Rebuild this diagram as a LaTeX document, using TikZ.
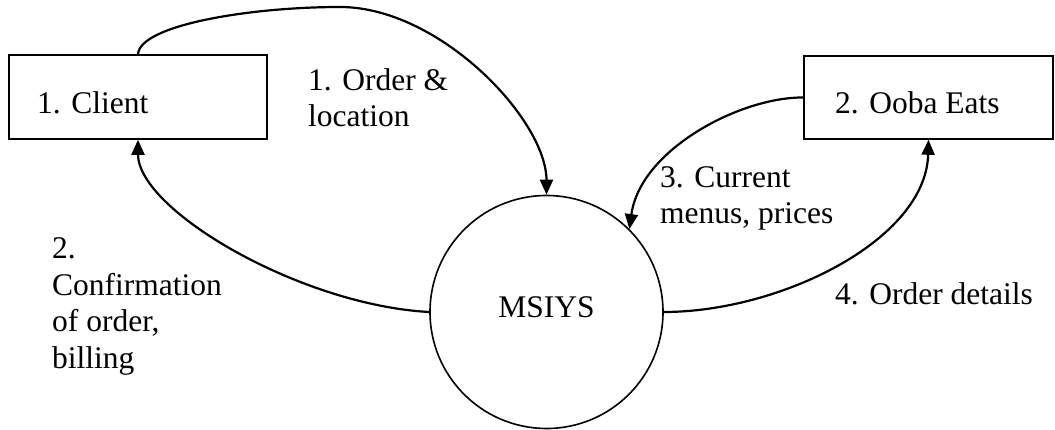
\documentclass[tikz,border=0pt]{standalone}
\usepackage{fontspec}
\setmainfont{Liberation Serif}
\usetikzlibrary{arrows.meta}
\begin{document}
\begin{tikzpicture}[x=1pt,y=-1pt,
  every node/.style={font=\fontsize{31.5}{36.5}\selectfont},
  entity/.style={draw, line width=1.6pt, rectangle, inner sep=0pt},
  process/.style={draw, line width=1.6pt, circle, inner sep=0pt, minimum size=233pt},
  lbl/.style={anchor=base west, inner sep=0pt, align=left},
  flow/.style={line width=2.2pt, -{Triangle[length=15pt,width=13pt]}}]
\useasboundingbox (0,0) rectangle (1055,430);
% entities
\node[entity, minimum width=258pt, minimum height=84pt] (client) at (138,97) {};
\node[entity, minimum width=249pt, minimum height=83pt] (ooba) at (928.5,97.5) {};
\node[lbl] (clienttext) at (37,114) {1. Client};
\node[lbl] (oobatext) at (835,114) {2. Ooba Eats};
% process
\node[process] (msiys) at (546.5,312) {\raisebox{0pt}[16pt][5pt]{MSIYS}};
% flows
\draw[flow] (client.north) .. controls (140,25) and (250,7) .. (340,7)
  .. controls (440,7) and (546.5,120) .. (msiys.north);
\draw[flow] (msiys.west) .. controls (300,305) and (138,210) .. (client.south);
\draw[flow] (ooba.west) .. controls (740,97) and (640,150) .. (msiys.45);
\draw[flow] (msiys.east) .. controls (780,312) and (926,240) .. (ooba.south);
% labels (base anchor of a multi-line node is its last line)
\node[lbl] (l1) at (308,127) {1. Order \&\\location};
\node[lbl] (l2) at (52,368) {2.\\Confirmation\\of order,\\billing};
\node[lbl] (l3) at (660,224) {3. Current\\menus, prices};
\node[lbl] (l4) at (835,305) {4. Order details};
\end{tikzpicture}
\end{document}
